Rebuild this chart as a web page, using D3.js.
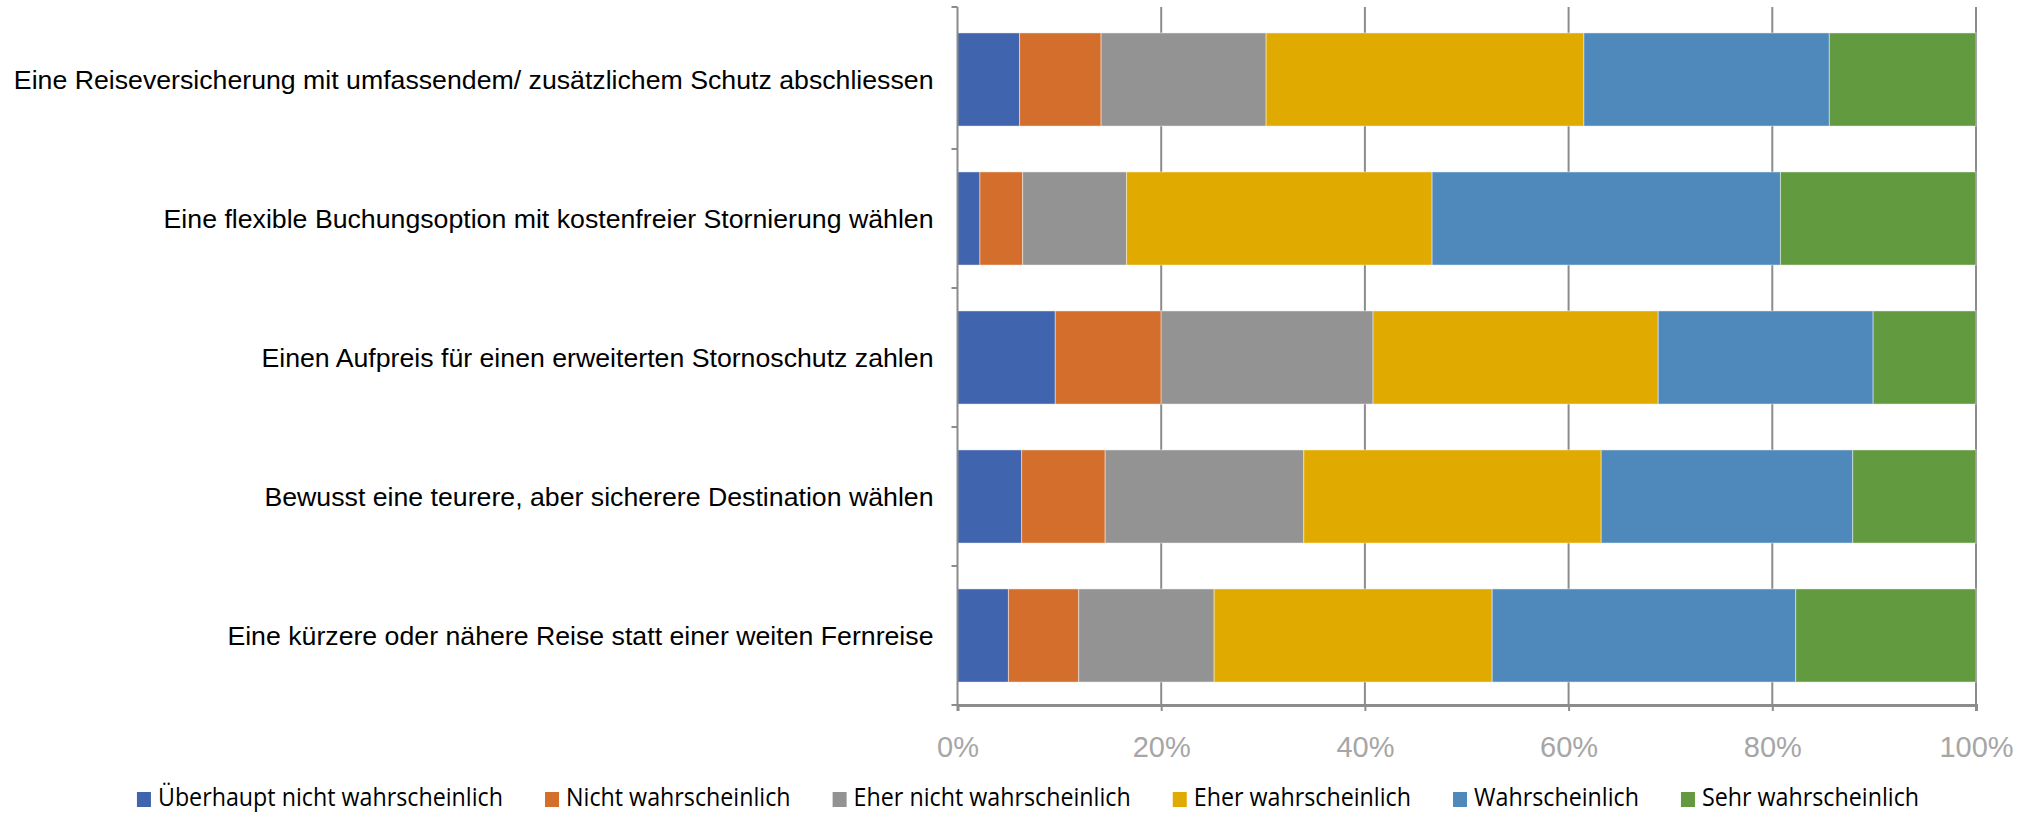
<!DOCTYPE html>
<html>
<head>
<meta charset="utf-8">
<script src="https://cdn.jsdelivr.net/npm/d3@7"></script>
<style>
  body { margin: 0; background: #fff; }
  svg { display: block; }
</style>
</head>
<body>
<svg id="chart" width="2029" height="814"></svg>
<script>
// categories, top to bottom
var categories = [
  "Eine Reiseversicherung mit umfassendem/ zusätzlichem Schutz abschliessen",
  "Eine flexible Buchungsoption mit kostenfreier Stornierung wählen",
  "Einen Aufpreis für einen erweiterten Stornoschutz zahlen",
  "Bewusst eine teurere, aber sicherere Destination wählen",
  "Eine kürzere oder nähere Reise statt einer weiten Fernreise"
];

var seriesNames = [
  "Überhaupt nicht wahrscheinlich",
  "Nicht wahrscheinlich",
  "Eher nicht wahrscheinlich",
  "Eher wahrscheinlich",
  "Wahrscheinlich",
  "Sehr wahrscheinlich"
];

// shares in percent, one array per series, in category order
var ueberhauptNicht = [6.1, 2.2, 9.6, 6.3, 5.0];
var nicht           = [8.0, 4.2, 10.4, 8.2, 6.9];
var eherNicht       = [16.2, 10.2, 20.8, 19.5, 13.3];
var eher            = [31.2, 30.0, 28.0, 29.2, 27.3];
var wahrscheinlich  = [24.1, 34.2, 21.1, 24.7, 29.8];
var sehr            = [14.4, 19.2, 10.1, 12.1, 17.7];

var xTicks = [0, 20, 40, 60, 80, 100];

var colors = ["#4064ad", "#d46e2c", "#939393", "#e1aa00", "#4f89bc", "#629a3f"];

var seriesValues = [ueberhauptNicht, nicht, eherNicht, eher, wahrscheinlich, sehr];

var rows = categories.map(function(c, i){
  var r = { cat: c };
  seriesNames.forEach(function(s, j){ r[s] = seriesValues[j][i]; });
  return r;
});

var svg = d3.select("#chart");

var plotLeft = 957.5, plotRight = 1976, plotTop = 10, plotBottom = 705;

var x = d3.scaleLinear().domain([0, 100]).range([plotLeft, plotRight]);
var y = d3.scaleBand().domain(categories).range([plotTop, plotBottom]).paddingInner(0.33).paddingOuter(0.165);

// gridlines behind the bars
svg.append("g").selectAll("line")
  .data(xTicks.slice(1))
  .enter().append("line")
    .attr("x1", function(d){ return x(d); })
    .attr("x2", function(d){ return x(d); })
    .attr("y1", plotTop - 3)
    .attr("y2", plotBottom)
    .attr("stroke", "#8c8c8c")
    .attr("stroke-width", 2);

var stack = d3.stack().keys(seriesNames)(rows);

svg.append("g").selectAll("g")
  .data(stack)
  .enter().append("g")
    .attr("fill", function(d, i){ return colors[i]; })
  .selectAll("rect")
  .data(function(d){ return d; })
  .enter().append("rect")
    .attr("x", function(d){ return x(d[0]); })
    .attr("width", function(d){ return x(d[1]) - x(d[0]); })
    .attr("y", function(d){ return y(d.data.cat); })
    .attr("height", y.bandwidth())
    .attr("stroke", "#ffffff")
    .attr("stroke-opacity", 0.45)
    .attr("stroke-width", 1);

// left axis with ticks at band boundaries
var bounds = d3.range(categories.length + 1).map(function(i){ return plotTop + i * (plotBottom - plotTop) / categories.length; });
bounds[0] = plotTop - 3;
var axisG = svg.append("g");
axisG.append("line")
  .attr("x1", plotLeft).attr("x2", plotLeft).attr("y1", plotTop - 3).attr("y2", plotBottom)
  .attr("stroke", "#8c8c8c").attr("stroke-width", 2);
axisG.selectAll("line.tick")
  .data(bounds)
  .enter().append("line").attr("class", "tick")
    .attr("x1", plotLeft - 6).attr("x2", plotLeft)
    .attr("y1", function(d){ return d; }).attr("y2", function(d){ return d; })
    .attr("stroke", "#8c8c8c").attr("stroke-width", 2);

// bottom axis
var xAxis = d3.axisBottom(x).tickValues(xTicks).tickSize(6).tickFormat(function(d){ return d + "%"; });
var xg = svg.append("g").attr("transform", "translate(0," + plotBottom + ")").call(xAxis);
xg.select(".domain").attr("stroke", "#8c8c8c").attr("stroke-width", 3);
xg.selectAll(".tick line").attr("stroke", "#8c8c8c").attr("stroke-width", 2);
xg.selectAll(".tick text")
  .attr("y", 52)
  .attr("dy", 0)
  .attr("fill", "#a6a6a6")
  .style("font-family", "'Liberation Sans', Arial, sans-serif")
  .style("font-size", "29px");

// category labels
svg.append("g").selectAll("text")
  .data(categories)
  .enter().append("text")
    .attr("x", plotLeft - 24)
    .attr("y", function(d){ return y(d) + y.bandwidth() / 2; })
    .attr("dy", "0.35em")
    .attr("text-anchor", "end")
    .attr("fill", "#000")
    .style("font-family", "'Liberation Sans', Arial, sans-serif")
    .style("font-size", "26.7px")
    .text(function(d){ return d; });

// legend
var legend = svg.append("g").attr("class", "legend");
var items = legend.selectAll("g")
  .data(seriesNames)
  .enter().append("g");
items.append("rect")
  .attr("width", 14).attr("height", 15)
  .attr("y", -14)
  .attr("fill", function(d, i){ return colors[i]; });
items.append("text")
  .attr("x", 21)
  .attr("y", 0)
  .attr("fill", "#000")
  .style("font-family", "'Open Sans', sans-serif")
  .style("font-size", "25px")
  .text(function(d){ return d; });

var squeeze = 0.93;
var pos = 0;
items.each(function(){
  var t = d3.select(this).select("text");
  var w = t.node().getComputedTextLength() * squeeze;
  t.attr("textLength", w).attr("lengthAdjust", "spacingAndGlyphs");
  d3.select(this).attr("transform", "translate(" + pos + ",0)");
  pos += 21 + w + 42;
});
var total = pos - 42;
legend.attr("transform", "translate(" + (1028 - total / 2) + ",806)");
</script>
</body>
</html>
